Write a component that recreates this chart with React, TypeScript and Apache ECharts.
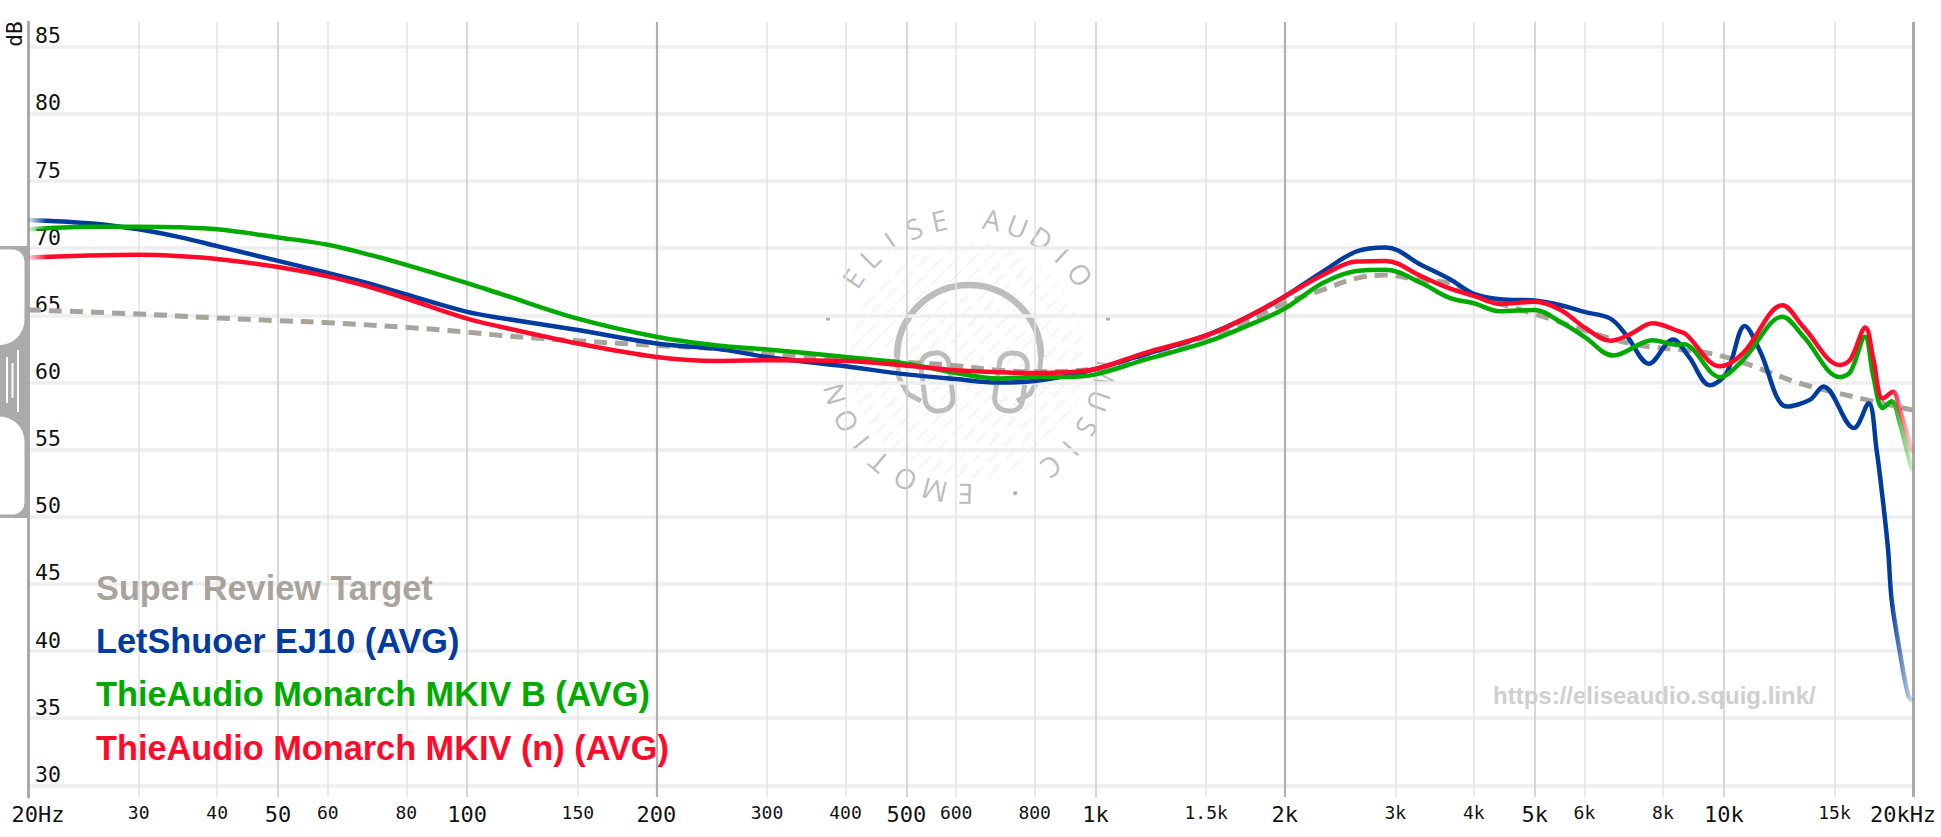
import React, { useEffect, useRef } from "react";
import * as echarts from "echarts";

// ---------- axis ticks ----------
const xTickValues = [20, 30, 40, 50, 60, 80, 100, 150, 200, 300, 400, 500, 600, 800, 1000, 1500, 2000, 3000, 4000, 5000, 6000, 8000, 10000, 15000, 20000];
const xTickLabels = ["20Hz", "30", "40", "50", "60", "80", "100", "150", "200", "300", "400", "500", "600", "800", "1k", "1.5k", "2k", "3k", "4k", "5k", "6k", "8k", "10k", "15k", "20kHz"];
const xMajorTicks = [20, 50, 100, 200, 500, 1000, 2000, 5000, 10000, 20000];
const xDarkLines = [200, 2000];
const xMediumLines = [50, 100, 500, 1000, 5000, 10000];
const yTickValues = [30, 35, 40, 45, 50, 55, 60, 65, 70, 75, 80, 85];

// ---------- series ----------
const seriesNames = ["Super Review Target", "LetShuoer EJ10 (AVG)", "ThieAudio Monarch MKIV B (AVG)", "ThieAudio Monarch MKIV (n) (AVG)"];
const seriesColors = ["#a8a49c", "#003b9f", "#00aa00", "#ff0a2a"];

const targetFreq = [20, 30, 40, 50, 60, 80, 100, 113, 150, 200, 250, 300, 400, 500, 600, 700, 800, 1000, 1200, 1500, 1750, 2000, 2300, 2600, 2900, 3300, 3660, 4000, 5000, 7100, 9500, 11000, 13200, 16900, 19900, 20000];
const targetDb = [65.4, 65.1, 64.8, 64.6, 64.45, 64.1, 63.75, 63.5, 63.1, 62.75, 62.5, 62.1, 61.75, 61.5, 61.25, 60.9, 60.8, 61.0, 62.0, 63.4, 64.6, 65.9, 66.9, 67.75, 68.0, 67.6, 67.4, 66.5, 65.1, 62.9, 62.16, 61.3, 59.94, 58.7, 57.96, 57.9];

const blueFreq = [20, 25, 30, 35, 40, 50, 60, 70, 80, 100, 113, 150, 200, 250, 300, 400, 500, 600, 700, 800, 900, 1000, 1200, 1500, 1750, 2000, 2300, 2600, 2900, 3300, 3660, 4000, 4400, 5000, 5500, 6000, 6600, 7000, 7600, 8300, 8800, 9500, 10100, 10800, 11400, 12600, 13700, 14400, 16100, 17000, 17500, 17900, 18250, 18500, 19050, 19660, 20000];
const blueDb = [72.1, 71.85, 71.4, 70.8, 70.15, 69.05, 68.15, 67.35, 66.55, 65.25, 64.8, 63.9, 62.9, 62.5, 61.9, 61.2, 60.6, 60.25, 60.0, 60.1, 60.5, 61.0, 62.1, 63.5, 64.9, 66.4, 68.25, 69.75, 70.05, 68.75, 67.7, 66.6, 66.2, 66.1, 65.75, 65.25, 64.75, 63.5, 61.4, 63.2, 61.9, 59.8, 60.7, 64.2, 62.4, 58.2, 58.7, 59.7, 56.6, 58.45, 55.0, 51.3, 47.6, 43.8, 40.0, 36.7, 36.3];

const greenFreq = [20, 25, 30, 35, 40, 50, 60, 70, 80, 100, 113, 150, 200, 250, 300, 400, 500, 600, 700, 800, 900, 1000, 1200, 1500, 1750, 2000, 2300, 2600, 2900, 3300, 3660, 4000, 4400, 5000, 5500, 6000, 6670, 7700, 8400, 8630, 9860, 10740, 12400, 13400, 15300, 15900, 16770, 17300, 17900, 18500, 19050, 19900, 20000];
const greenDb = [71.4, 71.6, 71.6, 71.55, 71.4, 70.8, 70.25, 69.5, 68.75, 67.4, 66.6, 64.75, 63.4, 62.75, 62.45, 61.9, 61.4, 60.7, 60.3, 60.4, 60.4, 60.6, 61.7, 63.0, 64.25, 65.5, 67.4, 68.3, 68.4, 67.4, 66.3, 65.9, 65.3, 65.4, 64.5, 63.4, 62.0, 63.15, 62.8, 62.85, 60.4, 61.7, 64.9, 63.4, 60.4, 60.8, 63.4, 60.4, 58.1, 58.6, 57.0, 53.6, 53.5];

const redFreq = [20, 25, 30, 35, 40, 50, 60, 70, 80, 100, 113, 150, 200, 250, 300, 400, 500, 600, 700, 800, 900, 1000, 1200, 1500, 1750, 2000, 2300, 2600, 2900, 3300, 3660, 4000, 4400, 5000, 5500, 6000, 6600, 7100, 7700, 8500, 8700, 9860, 10740, 12400, 13400, 15300, 15900, 16800, 17300, 17900, 18600, 19050, 19900, 20000];
const redDb = [69.3, 69.45, 69.5, 69.4, 69.2, 68.6, 67.9, 67.1, 66.25, 64.75, 64.15, 62.9, 61.9, 61.6, 61.65, 61.6, 61.25, 60.9, 60.75, 60.7, 60.75, 61.0, 62.2, 63.5, 64.9, 66.4, 68.0, 69.0, 69.05, 67.9, 67.0, 66.45, 65.85, 66.0, 65.4, 64.1, 63.1, 63.6, 64.4, 63.8, 63.6, 61.2, 62.2, 65.75, 64.1, 61.3, 61.7, 64.1, 61.7, 58.8, 59.3, 58.0, 55.0, 54.75];

// ---------- watermark ring text ----------
const ringLetters = ["E", "L", "I", "S", "E", "A", "U", "D", "I", "O", "M", "U", "S", "I", "C", "E", "M", "O", "T", "I", "O", "N"];
const ringAngles = [214, 225, 236, 247, 258, 280, 291, 302, 313, 324, 7, 19, 31, 42, 53, 91, 104, 117, 130, 141, 152, 164];
const ringDots = [195, 345, 71];

const MONO = "DejaVu Sans Mono";
const SANS = "Liberation Sans";

function zip(f: number[], v: number[]) {
  return f.map((x, i) => [x, v[i]]);
}

function rgba(hex: string, a: number) {
  const n = parseInt(hex.slice(1), 16);
  return `rgba(${(n >> 16) & 255},${(n >> 8) & 255},${n & 255},${a})`;
}

function fadeColor(hex: string) {
  return new echarts.graphic.LinearGradient(0, 0, 1, 0, [
    { offset: 0, color: rgba(hex, 0.1) },
    { offset: 0.01, color: hex },
    { offset: 0.988, color: hex },
    { offset: 1, color: rgba(hex, 0.15) },
  ]);
}

function buildGraphics() {
  const els: any[] = [];
  const CX = 968;
  const CY = 356;
  const wm = "#bdbdbd";
  // hatch disc
  const R = 118;
  const s2 = Math.SQRT1_2;
  for (let d = -112; d <= 112; d += 11) {
    const half = Math.sqrt(R * R - d * d);
    const mx = CX + d * s2;
    const my = CY + 4 + d * s2;
    els.push({
      type: "line",
      silent: true,
      z: 0,
      shape: { x1: mx - half * s2, y1: my + half * s2, x2: mx + half * s2, y2: my - half * s2 },
      style: { stroke: "rgba(0,0,0,0.1)", lineWidth: 1, lineDash: [16, 7] },
    });
  }
  // headband
  els.push({
    type: "arc",
    silent: true,
    z: 0,
    shape: { cx: CX + 1, cy: CY + 1, r: 72, startAngle: Math.PI, endAngle: Math.PI * 2, clockwise: true },
    style: { stroke: wm, lineWidth: 6.5, fill: "none" },
  });
  els.push({
    type: "polyline",
    silent: true,
    z: 0,
    shape: { points: [[897, 357], [899, 378], [908, 394], [921, 401]] },
    style: { stroke: wm, lineWidth: 5, fill: "none" },
  });
  els.push({
    type: "polyline",
    silent: true,
    z: 0,
    shape: { points: [[1041, 357], [1039, 378], [1030, 394], [1017, 401]] },
    style: { stroke: wm, lineWidth: 5, fill: "none" },
  });
  // ear cups
  [
    [937, 382, 0.12],
    [1011, 382, -0.14],
  ].forEach(([x, y, rot]) => {
    els.push({
      type: "rect",
      silent: true,
      z: 0,
      x,
      y,
      rotation: rot,
      shape: { x: -14, y: -29, width: 28, height: 58, r: 12 },
      style: { stroke: wm, lineWidth: 5, fill: "rgba(255,255,255,0)" },
    });
  });
  // ring letters
  const RT = 139;
  ringLetters.forEach((ch, i) => {
    const a = (ringAngles[i] * Math.PI) / 180;
    els.push({
      type: "text",
      silent: true,
      z: 0,
      x: CX + RT * Math.cos(a),
      y: CY + RT * Math.sin(a),
      rotation: -(((ringAngles[i] + 90) * Math.PI) / 180),
      style: {
        text: ch,
        fill: wm,
        font: `normal 28px "Open Sans", sans-serif`,
        align: "center",
        verticalAlign: "middle",
      },
    });
  });
  ringDots.forEach((deg) => {
    const a = (deg * Math.PI) / 180;
    els.push({
      type: "circle",
      silent: true,
      z: 0,
      shape: { cx: CX + 145 * Math.cos(a), cy: CY + 145 * Math.sin(a), r: 2.2 },
      style: { fill: "#b0b0b0" },
    });
  });
  // url watermark
  els.push({
    type: "text",
    silent: true,
    z: 0,
    x: 1493,
    y: 695,
    style: {
      text: "https://eliseaudio.squig.link/",
      fill: "#cfcfcf",
      font: `bold 24px "${SANS}", Arial, sans-serif`,
      align: "left",
      verticalAlign: "middle",
    },
  });
  // dB label
  els.push({
    type: "text",
    silent: true,
    z: 5,
    x: 14.5,
    y: 34,
    rotation: Math.PI / 2,
    style: {
      text: "dB",
      fill: "#111",
      font: `21px "${MONO}", monospace`,
      align: "center",
      verticalAlign: "middle",
    },
  });
  // y-scale handle on the left
  els.push({
    type: "rect",
    silent: true,
    z: 5,
    z2: 1,
    shape: { x: 0, y: 246, width: 28, height: 272 },
    style: { fill: "#aaaaaa" },
  });
  els.push({
    type: "rect",
    silent: true,
    z: 5,
    z2: 2,
    shape: { x: -30, y: 249.5, width: 54.5, height: 95.5, r: [0, 12, 25, 0] },
    style: { fill: "#ffffff" },
  });
  els.push({
    type: "rect",
    silent: true,
    z: 5,
    z2: 2,
    shape: { x: -30, y: 416.5, width: 54.5, height: 98, r: [0, 25, 12, 0] },
    style: { fill: "#ffffff" },
  });
  [
    [6, 357, 46],
    [11.5, 363, 35],
    [17, 350, 62],
  ].forEach(([x, y, h]) => {
    els.push({
      type: "rect",
      silent: true,
      z: 5,
      z2: 3,
      shape: { x, y, width: 2, height: h },
      style: { fill: "#ffffff" },
    });
  });
  return els;
}

function xLabelFormatter(value: number) {
  let best = 0;
  let bestD = Infinity;
  xTickValues.forEach((v, i) => {
    const d = Math.abs(Math.log10(v) - Math.log10(value));
    if (d < bestD) {
      bestD = d;
      best = i;
    }
  });
  const lab = xTickLabels[best];
  const v = xTickValues[best];
  let key = xMajorTicks.includes(v) ? "b" : "s";
  if (best === 0) key = "first";
  if (best === xTickValues.length - 1) key = "last";
  return `{${key}|${lab}}`;
}

export default function App() {
  const ref = useRef<HTMLDivElement>(null);

  useEffect(() => {
    if (!ref.current) return;
    const chart = echarts.init(ref.current, undefined, { renderer: "svg" });

    const gridLines: any[] = [];
    yTickValues.forEach((v) => {
      gridLines.push({ yAxis: v, lineStyle: { color: "#eeeeee", width: 3.5, type: "solid" } });
    });
    xTickValues.slice(1).forEach((v) => {
      let color = "#e2e2e2";
      let width = 1.5;
      if (xMediumLines.includes(v)) {
        color = "#cdcdcd";
        width = 1.6;
      }
      if (xDarkLines.includes(v)) {
        color = "#b0b0b0";
        width = 2.2;
      }
      if (v === 20000) {
        color = "#aaaaaa";
        width = 3;
      }
      gridLines.push({ xAxis: v, lineStyle: { color, width, type: "solid" } });
    });

    const curveData = [zip(blueFreq, blueDb), zip(greenFreq, greenDb), zip(redFreq, redDb)];

    const option: any = {
      animation: false,
      backgroundColor: "#ffffff",
      color: seriesColors,
      grid: { left: 28, right: 28, top: 22, bottom: 40, containLabel: false },
      legend: {
        orient: "vertical",
        left: 86,
        top: 556,
        icon: "none",
        itemWidth: 0,
        itemHeight: 0,
        itemGap: 0,
        selectedMode: false,
        textStyle: { fontFamily: SANS, fontWeight: "bold", fontSize: 34.3, lineHeight: 53.3 },
        data: seriesNames.map((n, i) => ({ name: n, textStyle: { color: seriesColors[i] } })),
      },
      xAxis: {
        type: "log",
        logBase: 10,
        min: 19.999,
        max: 20000.02,
        axisLine: { show: false },
        axisTick: { show: false },
        splitLine: { show: false },
        axisLabel: {
          customValues: xTickValues,
          formatter: xLabelFormatter,
          margin: 6,
          hideOverlap: false,
          showMinLabel: true,
          showMaxLabel: true,
          rich: {
            b: { fontSize: 22, fontFamily: MONO, color: "#111" },
            s: { fontSize: 18, fontFamily: MONO, color: "#111" },
            first: { fontSize: 22, fontFamily: MONO, color: "#111", padding: [0, 0, 0, 20] },
            last: { fontSize: 22, fontFamily: MONO, color: "#111", padding: [0, 20, 0, 0] },
          },
        },
      },
      yAxis: {
        type: "value",
        min: 29.13,
        max: 86.84,
        axisLine: { show: true, lineStyle: { color: "#aaaaaa", width: 3 } },
        axisTick: { show: false, customValues: yTickValues },
        splitLine: { show: false },
        axisLabel: {
          customValues: yTickValues,
          inside: true,
          margin: 7,
          align: "left",
          verticalAlign: "bottom",
          fontSize: 21.5,
          fontFamily: MONO,
          color: "#111",
          showMinLabel: true,
          showMaxLabel: true,
        },
      },
      series: [
        {
          type: "line",
          name: "",
          data: [[1000, 60]],
          symbol: "none",
          silent: true,
          z: 0,
          lineStyle: { opacity: 0 },
          markLine: {
            silent: true,
            z: 0,
            symbol: ["none", "none"],
            label: { show: false },
            emphasis: { disabled: true },
            animation: false,
            data: gridLines,
          },
        },
        {
          type: "line",
          name: seriesNames[0],
          data: zip(targetFreq, targetDb),
          smooth: 0.35,
          symbol: "none",
          silent: true,
          z: 2,
          lineStyle: { color: seriesColors[0], width: 5, type: [13, 8] },
        },
        ...curveData.map((d, i) => ({
          type: "line",
          name: seriesNames[i + 1],
          data: d,
          smooth: 0.35,
          symbol: "none",
          silent: true,
          z: 3 + i,
          itemStyle: { color: seriesColors[i + 1] },
          lineStyle: { color: fadeColor(seriesColors[i + 1]), width: 4.5 },
        })),
      ],
      graphic: buildGraphics(),
    };

    chart.setOption(option);
    return () => {
      chart.dispose();
    };
  }, []);

  return (
    <div
      ref={ref}
      style={{ position: "fixed", left: 0, top: 0, width: 1941, height: 837, background: "#ffffff" }}
    />
  );
}
